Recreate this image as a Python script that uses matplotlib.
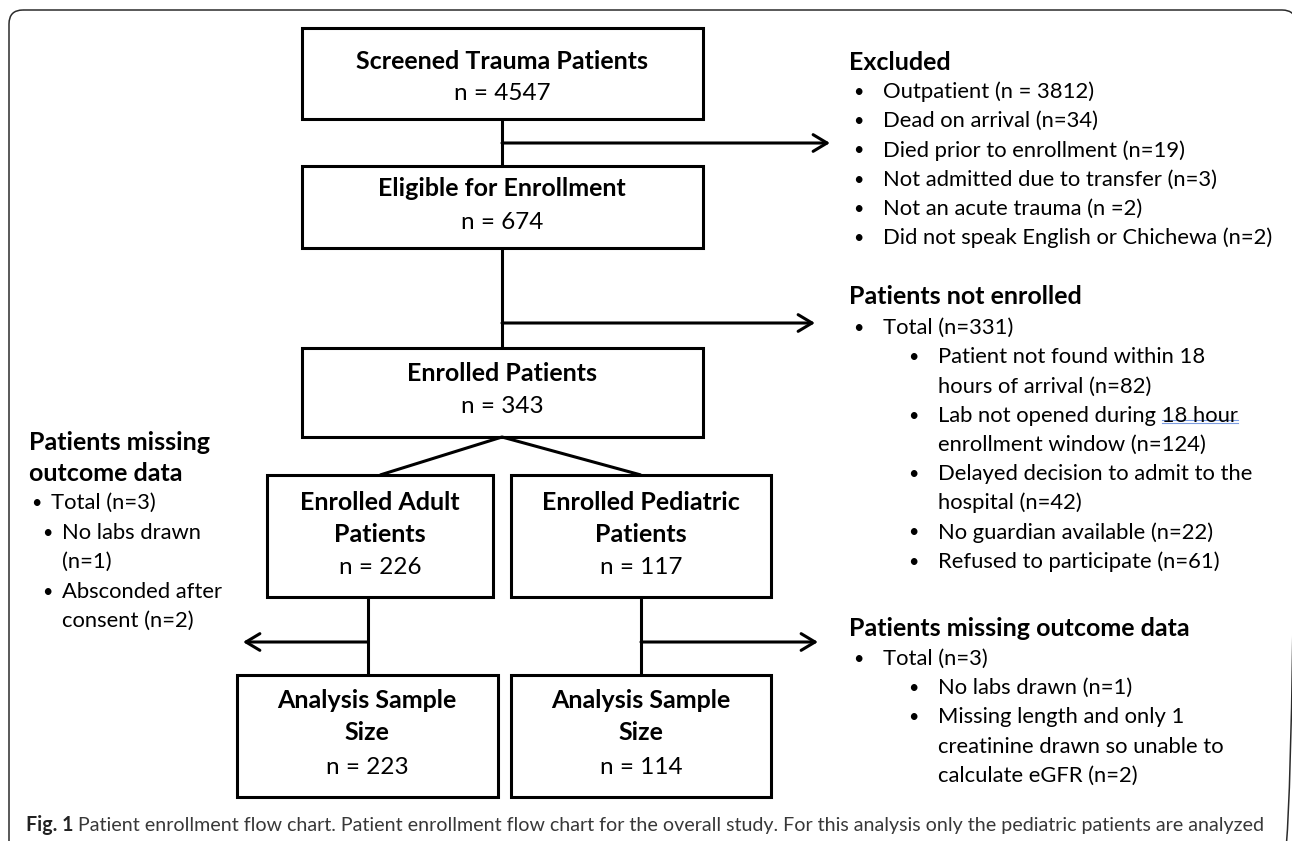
import matplotlib.pyplot as plt
from matplotlib.patches import Rectangle, FancyBboxPatch

plt.rcParams['font.family'] = ['Lato', 'DejaVu Sans']

# counts shown in the boxes
screened_n = 4547
eligible_n = 674
enrolled_n = 343
adult_n = 226
pediatric_n = 117
adult_final_n = 223
pediatric_final_n = 114

excluded_head = 'Excluded'
excluded_items = ['Outpatient (n = 3812)', 'Dead on arrival (n=34)', 'Died prior to enrollment (n=19)',
                  'Not admitted due to transfer (n=3)', 'Not an acute trauma (n =2)',
                  'Did not speak English or Chichewa (n=2)']

not_enrolled_head = 'Patients not enrolled'
not_enrolled_total = 'Total (n=331)'
not_enrolled_items = [['Patient not found within 18', 'hours of arrival (n=82)'],
                      ['Lab not opened during 18 hour', 'enrollment window (n=124)'],
                      ['Delayed decision to admit to the', 'hospital (n=42)'],
                      ['No guardian available (n=22)'],
                      ['Refused to participate (n=61)']]

peds_missing_head = 'Patients missing outcome data'
peds_missing_total = 'Total (n=3)'
peds_missing_items = [['No labs drawn (n=1)'],
                      ['Missing length and only 1', 'creatinine drawn so unable to', 'calculate eGFR (n=2)']]

adult_missing_head = ['Patients missing', 'outcome data']
adult_missing_total = 'Total (n=3)'
adult_missing_items = [['No labs drawn', '(n=1)'], ['Absconded after', 'consent (n=2)']]

spell_flag = '18 hour'
caption_bold = 'Fig. 1'
caption_text = ('Patient enrollment flow chart. Patient enrollment flow chart for the overall study. '
                'For this analysis only the pediatric patients are analyzed')

W, H = 1292, 841
fig = plt.figure(figsize=(W / 100, H / 100), dpi=100)
ax = fig.add_axes([0, 0, 1, 1])
ax.set_xlim(0, W)
ax.set_ylim(H, 0)
ax.axis('off')

LW = 2.2
TITLE_FS = 18
BODY_FS = 15.8
HEAD_FS = 18
BULLET_FS = 13

# outer frame (bottom and right run off the page)
ax.add_patch(FancyBboxPatch((9, 10), 1287, 860, boxstyle='round,pad=0,rounding_size=14',
                            fill=False, ec='#2b2b2b', lw=1.1))


def box_text(cx, ys, bold_lines, n):
    for line, y in zip(bold_lines, ys):
        ax.text(cx, y, line, ha='center', va='center', fontsize=TITLE_FS, fontweight='bold')
    ax.text(cx, ys[len(bold_lines)], 'n = %d' % n, ha='center', va='center', fontsize=TITLE_FS - 0.5)


def rect(x0, y0, x1, y1):
    ax.add_patch(Rectangle((x0, y0), x1 - x0, y1 - y0, fill=False, ec='black', lw=LW))


def line(xs, ys):
    ax.plot(xs, ys, color='black', lw=LW, solid_capstyle='butt')


def arrow(x0, x1, y):
    ax.annotate('', xy=(x1, y), xytext=(x0, y),
                arrowprops=dict(arrowstyle='->,head_length=0.5,head_width=0.3', lw=LW,
                                color='black', shrinkA=0, shrinkB=0, mutation_scale=20))


rect(302, 28, 703, 119)
box_text(502, [61, 93], ['Screened Trauma Patients'], screened_n)
rect(302, 166, 703, 248)
box_text(502, [188, 222], ['Eligible for Enrollment'], eligible_n)
rect(302, 348, 703, 437)
box_text(502, [373, 406], ['Enrolled Patients'], enrolled_n)
rect(267, 475, 493, 597)
box_text(380, [502, 535, 567], ['Enrolled Adult', 'Patients'], adult_n)
rect(511, 475, 771, 597)
box_text(641, [502, 535, 567], ['Enrolled Pediatric', 'Patients'], pediatric_n)
rect(237, 675, 498, 797)
box_text(367, [700, 733, 767], ['Analysis Sample', 'Size'], adult_final_n)
rect(511, 675, 771, 797)
box_text(641, [700, 733, 767], ['Analysis Sample', 'Size'], pediatric_final_n)

# connectors
line([502, 502], [119, 166])
arrow(502, 830, 143)
line([502, 502], [248, 348])
arrow(502, 815, 323)
line([380, 502, 641], [475, 437, 475])
line([368, 368], [597, 675])
arrow(368, 243, 642)
line([641, 641], [597, 675])
arrow(641, 818, 642)

flag_texts = []


def bullet_block(x_head, y_head, head, total, items, y_total, step=29.2,
                 xb1=853, xt1=883, xb2=908, xt2=938):
    ax.text(x_head, y_head, head, ha='left', va='center', fontsize=HEAD_FS, fontweight='bold')
    y = y_total
    if total is not None:
        ax.text(xb1, y, '\u2022', ha='left', va='center', fontsize=BULLET_FS)
        ax.text(xt1, y, total, ha='left', va='center', fontsize=BODY_FS)
        y += step
        for item in items:
            ax.text(xb2, y, '\u2022', ha='left', va='center', fontsize=BULLET_FS)
            for ln in item:
                t = ax.text(xt2, y, ln, ha='left', va='center', fontsize=BODY_FS)
                if ln.endswith(spell_flag):
                    flag_texts.append(t)
                y += step
    else:
        for item in items:
            ax.text(xb1, y, '\u2022', ha='left', va='center', fontsize=BULLET_FS)
            ax.text(xt1, y, item, ha='left', va='center', fontsize=BODY_FS)
            y += step


bullet_block(849, 62, excluded_head, None, excluded_items, 92)
bullet_block(849, 297, not_enrolled_head, not_enrolled_total, not_enrolled_items, 328)
bullet_block(849, 628, peds_missing_head, peds_missing_total, peds_missing_items, 659)

# left side block
for ln, y in zip(adult_missing_head, [442, 473]):
    ax.text(29, y, ln, ha='left', va='center', fontsize=HEAD_FS, fontweight='bold')
ax.text(31, 503, '\u2022', ha='left', va='center', fontsize=BULLET_FS)
ax.text(51, 503, adult_missing_total, ha='left', va='center', fontsize=BODY_FS)
y = 533
for item in adult_missing_items:
    ax.text(42, y, '\u2022', ha='left', va='center', fontsize=BULLET_FS)
    for ln in item:
        ax.text(62, y, ln, ha='left', va='center', fontsize=BODY_FS)
        y += 29.3

# caption
cap = ax.text(26, 825, caption_bold + ' ', ha='left', va='center', fontsize=14.1,
              fontweight='bold', color='#222222')
ax.annotate(caption_text, xy=(1, 0.5), xycoords=cap, ha='left', va='center',
            fontsize=14.1, color='#383838')

# spell-check underline under the flagged words
fig.canvas.draw()
r = fig.canvas.get_renderer()
inv = ax.transData.inverted()
for t in flag_texts:
    bb = t.get_window_extent(r)
    probe = ax.text(0, 0, spell_flag, fontsize=BODY_FS)
    wb = probe.get_window_extent(r)
    probe.remove()
    (xr, yb), = inv.transform([(bb.x1, bb.y0)])
    (x0p, _), (x1p, _) = inv.transform([(wb.x0, wb.y0), (wb.x1, wb.y0)])
    xl = xr - (x1p - x0p)
    for dy in (-1.5, 1.5):
        ax.plot([xl, xr], [yb - 4 + dy, yb - 4 + dy], color='#7a9be0', lw=0.8)

fig.savefig('out.png', dpi=100)
